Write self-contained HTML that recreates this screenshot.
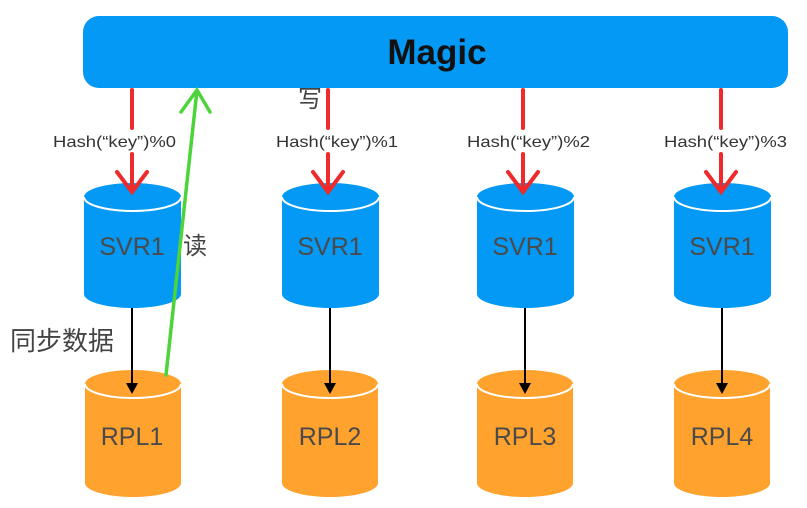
<!DOCTYPE html>
<html><head><meta charset="utf-8"><style>
html,body{margin:0;padding:0;background:#fff;width:807px;height:508px;overflow:hidden}
svg text{font-family:"Liberation Sans","Noto Sans CJK SC",sans-serif}
</style></head><body>
<svg width="807" height="508" viewBox="0 0 807 508" xmlns="http://www.w3.org/2000/svg">
<rect x="83" y="16" width="705" height="72" rx="16" fill="#0399F5"/>
<text x="437" y="64" text-anchor="middle" font-size="35" font-weight="bold" fill="#111">Magic</text>
<g fill="#0399F5">
<path d="M84 197 A48.5 14 0 0 1 181 197 L181 294 A48.5 14 0 0 1 84 294 Z"/>
<path d="M282 197 A48.5 14 0 0 1 379 197 L379 294 A48.5 14 0 0 1 282 294 Z"/>
<path d="M477 197 A48.5 14 0 0 1 574 197 L574 294 A48.5 14 0 0 1 477 294 Z"/>
<path d="M674 197 A48.5 14 0 0 1 771 197 L771 294 A48.5 14 0 0 1 674 294 Z"/>
</g>
<g fill="#FFA22E">
<path d="M85 384 A48 14 0 0 1 181 384 L181 483 A48 14 0 0 1 85 483 Z"/>
<path d="M282 384 A48 14 0 0 1 378 384 L378 483 A48 14 0 0 1 282 483 Z"/>
<path d="M477 384 A48 14 0 0 1 573 384 L573 483 A48 14 0 0 1 477 483 Z"/>
<path d="M674 384 A48 14 0 0 1 770 384 L770 483 A48 14 0 0 1 674 483 Z"/>
</g>
<g fill="none" stroke="#fff" stroke-width="2">
<path d="M84 197 A48.5 14 0 0 0 181 197"/>
<path d="M282 197 A48.5 14 0 0 0 379 197"/>
<path d="M477 197 A48.5 14 0 0 0 574 197"/>
<path d="M674 197 A48.5 14 0 0 0 771 197"/>
<path d="M85 384 A48 14 0 0 0 181 384"/>
<path d="M282 384 A48 14 0 0 0 378 384"/>
<path d="M477 384 A48 14 0 0 0 573 384"/>
<path d="M674 384 A48 14 0 0 0 770 384"/>
</g>
<g font-size="25" fill="#4a4a4a" text-anchor="middle">
<text x="132" y="255">SVR1</text><text x="330" y="255">SVR1</text><text x="525" y="255">SVR1</text><text x="722" y="255">SVR1</text>
<text x="132" y="445">RPL1</text><text x="330" y="445">RPL2</text><text x="525" y="445">RPL3</text><text x="722" y="445">RPL4</text>
</g>
<g stroke="#000" stroke-width="2">
<line x1="132" y1="308" x2="132" y2="385"/><line x1="330" y1="308" x2="330" y2="385"/><line x1="525" y1="308" x2="525" y2="385"/><line x1="722" y1="308" x2="722" y2="385"/>
</g>
<g fill="#000">
<path d="M126 383 L138 383 L132 394 Z"/><path d="M324 383 L336 383 L330 394 Z"/><path d="M519 383 L531 383 L525 394 Z"/><path d="M716 383 L728 383 L722 394 Z"/>
</g>
<g stroke="#EE2A2A" stroke-width="4" fill="none" stroke-linecap="round">
<path d="M132 90 V128 M132 154 V192 M117 172 L132 192 L147 172"/>
<path d="M328 90 V128 M328 154 V192 M313 172 L328 192 L343 172"/>
<path d="M523 90 V128 M523 154 V192 M508 172 L523 192 L538 172"/>
<path d="M721 90 V128 M721 154 V192 M706 172 L721 192 L736 172"/>
</g>
<g font-size="16" fill="#333">
<text x="53" y="147" textLength="123" lengthAdjust="spacingAndGlyphs">Hash(“key”)%0</text>
<text x="276" y="147" textLength="122" lengthAdjust="spacingAndGlyphs">Hash(“key”)%1</text>
<text x="467" y="147" textLength="123" lengthAdjust="spacingAndGlyphs">Hash(“key”)%2</text>
<text x="664" y="147" textLength="123" lengthAdjust="spacingAndGlyphs">Hash(“key”)%3</text>
</g>
<g stroke="#4CD43A" stroke-width="3.5" fill="none" stroke-linecap="round">
<path d="M166 375 L197 90 M181 112 L197 90 L210 112"/>
</g>
<g fill="#444">
<text x="298" y="107" font-size="24">写</text>
<text x="183" y="254" font-size="24">读</text>
<text x="10" y="350" font-size="26">同步数据</text>
</g>
</svg>
</body></html>
